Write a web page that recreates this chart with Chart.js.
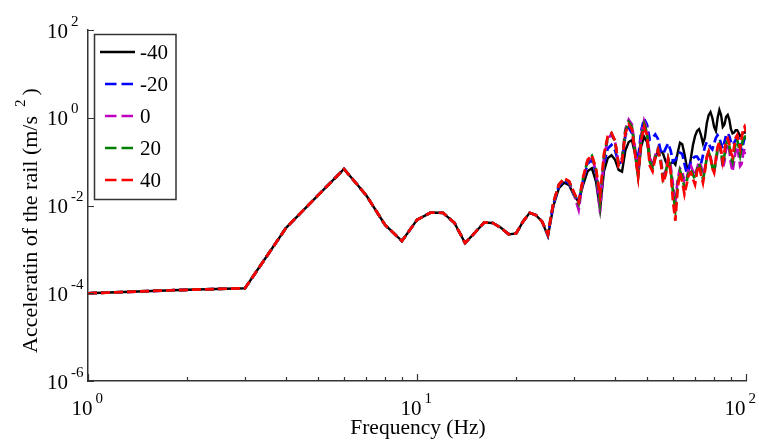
<!DOCTYPE html>
<html>
<head>
<meta charset="utf-8">
<title>Acceleration of the rail</title>
<script src="https://cdn.jsdelivr.net/npm/chart.js@4.4.0/dist/chart.umd.min.js"></script>
<style>
  html, body { margin: 0; padding: 0; background: #fff; }
  canvas { display: block; }
</style>
</head>
<body>
<canvas id="accChart" width="759" height="441"></canvas>
<script>
/* ============================================
   Rail acceleration spectrum, log-log axes
   ============================================ */

var freqHz = [
  1, 2, 3, 4, 5, 6, 7, 8, 9, 10,
  11, 12, 13, 14, 15, 16, 17, 18, 19, 20,
  21, 22, 23, 24, 25, 26, 27, 28, 29, 30,
  31, 32, 33, 34, 35, 36, 37, 38, 39, 40,
  41, 42, 43, 44, 45, 46, 47, 48, 49, 50,
  51, 52, 53, 54, 55, 56, 57, 58, 59, 60,
  61, 62, 63, 64, 65, 66, 67, 68, 69, 70,
  71, 72, 73, 74, 75, 76, 77, 78, 79, 80,
  81, 82, 83, 84, 85, 86, 87, 88, 89, 90,
  91, 92, 93, 94, 95, 96, 97, 98, 99, 100
];

// 1-24 Hz: the five cases share one curve
var lowBand = [
  1.0e-4, 1.2e-4, 1.3e-4, 3.1e-3, 0.017, 0.068, 0.0173, 0.0036, 0.00155, 0.0047,
  0.0069, 0.0068, 0.0040, 0.0014, 0.0024, 0.0041, 0.0040, 0.0031, 0.0022, 0.0023,
  0.0043, 0.0068, 0.0060, 0.0043
];

// 25-100 Hz, one array per case
var highM40 = [
  0.0020, 0.010, 0.025, 0.033, 0.029, 0.017, 0.012, 0.030, 0.060, 0.071,
  0.035, 0.008, 0.060, 0.12, 0.14, 0.11, 0.065, 0.059, 0.18, 0.28,
  0.31, 0.15, 0.045, 0.22, 0.37, 0.28, 0.12, 0.08, 0.12, 0.17,
  0.18, 0.15, 0.10, 0.08, 0.09, 0.10, 0.085, 0.16, 0.27, 0.25,
  0.15, 0.08, 0.065, 0.12, 0.24, 0.38, 0.50, 0.55, 0.40, 0.26,
  0.35, 0.75, 1.15, 1.35, 1.00, 0.62, 0.50, 1.00, 1.50, 1.15,
  0.62, 0.70, 1.05, 1.16, 0.90, 0.55, 0.44, 0.46, 0.52, 0.52,
  0.45, 0.38, 0.40, 0.45, 0.47, 0.45
];
var highM20 = [
  0.0021, 0.011, 0.028, 0.038, 0.032, 0.018, 0.012, 0.038, 0.090, 0.11,
  0.055, 0.011, 0.09, 0.20, 0.24, 0.18, 0.09, 0.10, 0.40, 0.60,
  0.45, 0.18, 0.11, 0.50, 0.95, 0.70, 0.32, 0.35, 0.42, 0.33,
  0.18, 0.15, 0.20, 0.26, 0.18, 0.10, 0.11, 0.14, 0.16, 0.15,
  0.09, 0.056, 0.07, 0.10, 0.12, 0.13, 0.13, 0.11, 0.09, 0.14,
  0.22, 0.28, 0.26, 0.21, 0.19, 0.26, 0.35, 0.40, 0.35, 0.25,
  0.20, 0.28, 0.40, 0.44, 0.38, 0.28, 0.24, 0.27, 0.31, 0.34,
  0.33, 0.24, 0.18, 0.25, 0.35, 0.40
];
var high0 = [
  0.0022, 0.012, 0.030, 0.040, 0.034, 0.018, 0.008, 0.040, 0.10, 0.13,
  0.06, 0.007, 0.12, 0.33, 0.42, 0.28, 0.09, 0.12, 0.55, 0.90,
  0.70, 0.20, 0.06, 0.40, 0.85, 0.55, 0.12, 0.08, 0.14, 0.20,
  0.12, 0.05, 0.06, 0.12, 0.08, 0.03, 0.012, 0.04, 0.07, 0.06,
  0.035, 0.04, 0.07, 0.08, 0.06, 0.05, 0.07, 0.10, 0.08, 0.05,
  0.07, 0.12, 0.16, 0.13, 0.08, 0.06, 0.10, 0.18, 0.22, 0.16,
  0.07, 0.10, 0.20, 0.25, 0.18, 0.09, 0.06, 0.10, 0.18, 0.22,
  0.14, 0.08, 0.09, 0.15, 0.20, 0.15
];
var high20 = [
  0.0022, 0.012, 0.030, 0.041, 0.035, 0.019, 0.011, 0.043, 0.105, 0.135,
  0.065, 0.012, 0.13, 0.36, 0.44, 0.29, 0.085, 0.11, 0.50, 0.80,
  0.62, 0.17, 0.05, 0.35, 0.72, 0.47, 0.10, 0.07, 0.13, 0.19,
  0.11, 0.04, 0.055, 0.115, 0.07, 0.02, 0.008, 0.03, 0.062, 0.045,
  0.025, 0.035, 0.06, 0.065, 0.05, 0.04, 0.065, 0.09, 0.065, 0.04,
  0.065, 0.125, 0.165, 0.125, 0.075, 0.058, 0.11, 0.20, 0.25, 0.17,
  0.085, 0.14, 0.25, 0.30, 0.22, 0.13, 0.10, 0.16, 0.27, 0.32,
  0.22, 0.14, 0.22, 0.35, 0.42, 0.32
];
var high40 = [
  0.0022, 0.012, 0.030, 0.042, 0.036, 0.020, 0.012, 0.045, 0.11, 0.14,
  0.07, 0.017, 0.15, 0.38, 0.45, 0.30, 0.08, 0.10, 0.45, 0.70,
  0.55, 0.15, 0.045, 0.30, 0.62, 0.40, 0.08, 0.06, 0.12, 0.18,
  0.10, 0.033, 0.05, 0.11, 0.06, 0.012, 0.0045, 0.025, 0.056, 0.035,
  0.018, 0.03, 0.05, 0.056, 0.04, 0.03, 0.06, 0.08, 0.05, 0.033,
  0.06, 0.13, 0.17, 0.12, 0.07, 0.056, 0.12, 0.22, 0.28, 0.18,
  0.10, 0.17, 0.30, 0.34, 0.25, 0.16, 0.13, 0.22, 0.35, 0.40,
  0.28, 0.20, 0.35, 0.55, 0.63, 0.47
];

var seriesNames = ['-40', '-20', '0', '20', '40'];
var seriesHigh = [highM40, highM20, high0, high20, high40];
var seriesColors = ['#000000', '#0000ff', '#c000c0', '#008000', '#ff0000'];

var xTickValues = [1, 10, 100];
var xTickExp = ['0', '1', '2'];
var xMinorTicks = [2, 3, 4, 5, 6, 7, 8, 9, 20, 30, 40, 50, 60, 70, 80, 90];
var yTickValues = [1e-6, 1e-4, 1e-2, 1, 100];
var yTickExp = ['-6', '-4', '-2', '0', '2'];

var SERIF = '"Liberation Serif", "DejaVu Serif", serif';

function toPoints(values) {
  return values.map(function (v, i) { return { x: freqHz[i], y: v }; });
}

function buildDatasets() {
  return seriesNames.map(function (name, i) {
    return {
      label: name,
      data: toPoints(lowBand.concat(seriesHigh[i])),
      borderColor: seriesColors[i],
      borderWidth: i === 0 ? 2.4 : 2.7,
      borderDash: i === 0 ? [] : [9, 4],
      pointRadius: 0,
      tension: 0,
      fill: false,
      // last case ends up on top
      order: seriesNames.length - i
    };
  });
}

// "10" with a raised exponent
function drawPower(ctx, exp, x, y, mode) {
  ctx.fillStyle = '#000';
  ctx.textBaseline = 'alphabetic';
  ctx.font = '21px ' + SERIF;
  var baseW = ctx.measureText('10').width;
  var left = mode === 'y' ? x - baseW : x - baseW / 2;
  ctx.font = '15px ' + SERIF;
  var expW = ctx.measureText(exp).width;
  // keep the last exponent inside the canvas
  var overflow = left + baseW + 3 + expW - (ctx.canvas.width - 3);
  if (overflow > 0) left -= overflow;
  ctx.textAlign = 'left';
  ctx.font = '21px ' + SERIF;
  ctx.fillText('10', left, y);
  ctx.font = '15px ' + SERIF;
  ctx.fillText(exp, left + baseW + 3, y - 12);
}

var axisDecor = {
  id: 'axisDecor',
  afterDraw: function (chart) {
    var ctx = chart.ctx;
    var xs = chart.scales.x;
    var ys = chart.scales.y;
    var area = chart.chartArea;

    ctx.save();
    ctx.strokeStyle = '#333';
    ctx.lineWidth = 1.2;
    ctx.beginPath();
    xMinorTicks.forEach(function (v) {
      var px = Math.round(xs.getPixelForValue(v)) + 0.5;
      ctx.moveTo(px, area.bottom);
      ctx.lineTo(px, area.bottom - 4);
    });
    xTickValues.forEach(function (v) {
      var px = Math.round(xs.getPixelForValue(v)) + 0.5;
      ctx.moveTo(px, area.bottom);
      ctx.lineTo(px, area.bottom - 7);
    });
    yTickValues.forEach(function (v) {
      var py = Math.round(ys.getPixelForValue(v)) + 0.5;
      ctx.moveTo(area.left, py);
      ctx.lineTo(area.left + 6, py);
    });
    ctx.stroke();

    // tick labels
    xTickValues.forEach(function (v, i) {
      drawPower(ctx, xTickExp[i], xs.getPixelForValue(v) - 6, area.bottom + 34, 'x');
    });
    yTickValues.forEach(function (v, i) {
      drawPower(ctx, yTickExp[i], area.left - 20, ys.getPixelForValue(v) + 7.5, 'y');
    });

    // axis titles
    ctx.fillStyle = '#000';
    ctx.font = '21.5px ' + SERIF;
    ctx.textAlign = 'center';
    ctx.textBaseline = 'alphabetic';
    ctx.fillText('Frequency (Hz)', 418, 434);

    ctx.translate(37, 353);
    ctx.rotate(-Math.PI / 2);
    ctx.textAlign = 'left';
    ctx.font = '22px ' + SERIF;
    var mainText = 'Acceleratin of the rail (m/s';
    ctx.fillText(mainText, 0, 0);
    var w = ctx.measureText(mainText).width;
    ctx.font = '15px ' + SERIF;
    ctx.fillText('2', w + 9, -12);
    var supW = ctx.measureText('2').width;
    ctx.font = '22px ' + SERIF;
    ctx.fillText(')', w + 9 + supW + 4, 0);
    ctx.restore();
  }
};

var legendBox = {
  id: 'legendBox',
  afterDraw: function (chart) {
    var ctx = chart.ctx;
    var sets = chart.data.datasets;
    ctx.save();
    ctx.fillStyle = '#fff';
    ctx.fillRect(94.5, 34.5, 81.5, 165);
    ctx.strokeStyle = '#333';
    ctx.lineWidth = 1.5;
    ctx.strokeRect(94.5, 34.5, 81.5, 165);

    sets.forEach(function (ds, i) {
      var y = 52 + i * 32;
      ctx.strokeStyle = ds.borderColor;
      ctx.lineWidth = 2.5;
      ctx.beginPath();
      if (ds.borderDash.length) {
        ctx.setLineDash([11.5, 5]);
        ctx.moveTo(105, y);
        ctx.lineTo(133, y);
      } else {
        ctx.setLineDash([]);
        ctx.moveTo(100, y);
        ctx.lineTo(135, y);
      }
      ctx.stroke();
      ctx.setLineDash([]);
      ctx.fillStyle = '#000';
      ctx.font = '21px ' + SERIF;
      ctx.textAlign = 'left';
      ctx.textBaseline = 'middle';
      ctx.fillText(ds.label, 140, y + 1);
    });
    ctx.restore();
  }
};

var ctx = document.getElementById('accChart').getContext('2d');
var chart = new Chart(ctx, {
  type: 'line',
  data: { datasets: buildDatasets() },
  options: {
    responsive: false,
    animation: false,
    devicePixelRatio: 1,
    layout: { padding: { left: 0, right: 13, top: 30, bottom: 0 } },
    scales: {
      x: {
        type: 'logarithmic',
        min: 1,
        max: 100,
        grid: { display: false, drawTicks: false },
        border: { display: true, color: '#333', width: 1.5 },
        ticks: { display: false },
        afterFit: function (s) { s.height = 60; }
      },
      y: {
        type: 'logarithmic',
        min: 1e-6,
        max: 100,
        grid: { display: false, drawTicks: false },
        border: { display: true, color: '#333', width: 1.5 },
        ticks: { display: false },
        afterFit: function (s) { s.width = 88; }
      }
    },
    plugins: {
      legend: { display: false },
      tooltip: { enabled: false }
    }
  },
  plugins: [axisDecor, legendBox]
});
</script>
</body>
</html>
